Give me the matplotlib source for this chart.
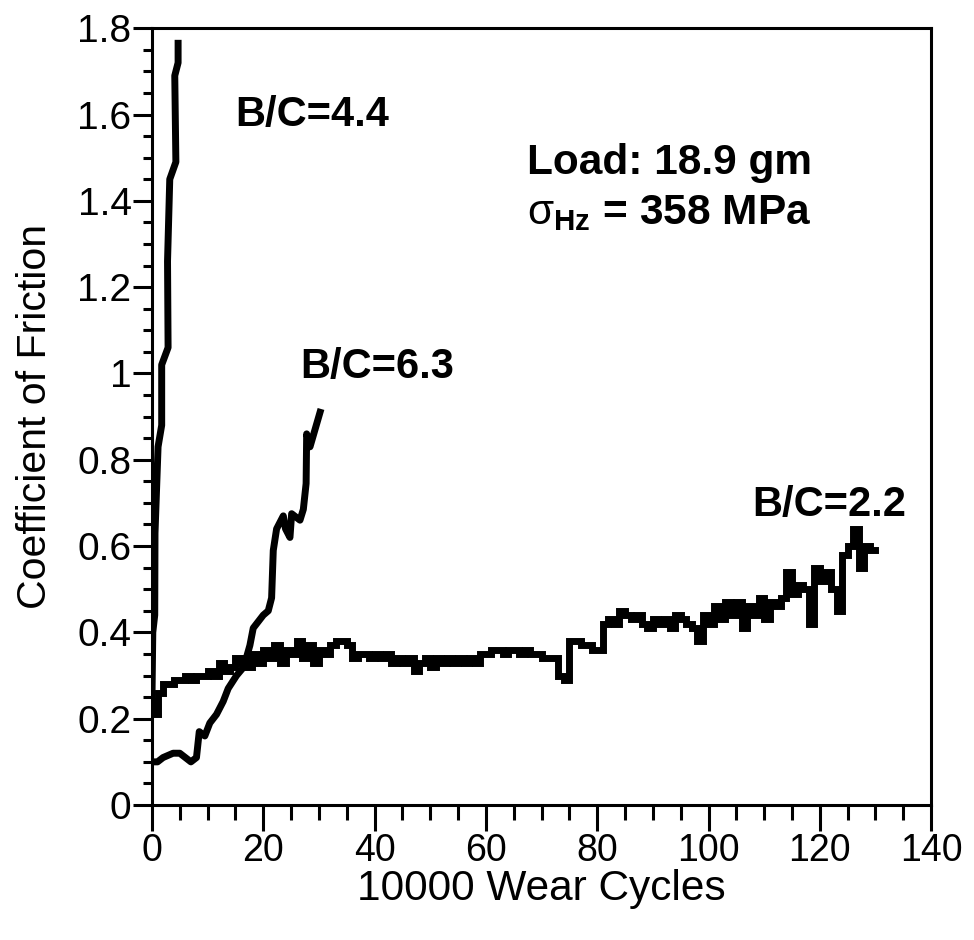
import matplotlib
matplotlib.use("Agg")
import matplotlib.pyplot as plt
from matplotlib.ticker import MultipleLocator, FuncFormatter

plt.rcParams['font.family'] = ['Liberation Sans', 'DejaVu Sans']
plt.rcParams['mathtext.fontset'] = 'custom'
plt.rcParams['mathtext.rm'] = 'Liberation Sans'
plt.rcParams['mathtext.bf'] = 'Liberation Sans:bold'

# ---- data ----
x_44 = [0.0, 0.15, 0.5, 0.55, 1.1, 1.75, 1.75, 2.9, 2.8, 3.2, 4.3, 4.1, 4.7, 4.7]
y_44 = [0.24, 0.40, 0.44, 0.63, 0.83, 0.88, 1.02, 1.06, 1.26, 1.45, 1.49, 1.69, 1.72, 1.765]

x_63 = [0, 1, 2, 3.8, 5, 6, 7, 8, 8.5, 9.5, 10.4, 11.6, 12.8, 13.7, 15.2, 16.5, 17.6,
        18.2, 20, 20.9, 21.5, 21.8, 22.4, 23.6, 24.0, 24.8, 25.1, 26.6, 27.2, 27.7,
        27.8, 28.4, 30.2]
y_63 = [0.10, 0.10, 0.11, 0.12, 0.12, 0.11, 0.10, 0.11, 0.17, 0.16, 0.19, 0.21, 0.24,
        0.27, 0.30, 0.32, 0.37, 0.41, 0.44, 0.45, 0.48, 0.59, 0.64, 0.67, 0.64, 0.62,
        0.675, 0.66, 0.685, 0.745, 0.86, 0.83, 0.91]

x_22 = [0, 0.3] + list(range(1, 131))
y_22 = [0.24, 0.21,
        0.26, 0.28, 0.28, 0.29, 0.29, 0.30, 0.29, 0.30, 0.30, 0.31,
        0.30, 0.33, 0.31, 0.32, 0.34, 0.33, 0.32, 0.35, 0.33, 0.36,
        0.34, 0.37, 0.33, 0.36, 0.35, 0.38, 0.34, 0.37, 0.33, 0.36,
        0.35, 0.37, 0.38, 0.38, 0.37, 0.34, 0.35, 0.35, 0.34, 0.35,
        0.34, 0.35, 0.33, 0.34, 0.33, 0.34, 0.31, 0.33, 0.34, 0.32,
        0.34, 0.33, 0.34, 0.33, 0.34, 0.33, 0.34, 0.33, 0.35, 0.35,
        0.36, 0.36, 0.35, 0.36, 0.36, 0.35, 0.36, 0.35, 0.35, 0.34,
        0.34, 0.34, 0.30, 0.29, 0.38, 0.38, 0.37, 0.37, 0.36, 0.36,
        0.42, 0.43, 0.42, 0.45, 0.44, 0.43, 0.44, 0.42, 0.41, 0.43,
        0.42, 0.43, 0.41, 0.44, 0.43, 0.42, 0.41, 0.38, 0.44, 0.42,
        0.46, 0.43, 0.47, 0.44, 0.47, 0.41, 0.46, 0.44, 0.48, 0.43,
        0.47, 0.46, 0.48, 0.54, 0.49, 0.51, 0.50, 0.42, 0.55, 0.52,
        0.54, 0.50, 0.45, 0.58, 0.60, 0.64, 0.55, 0.60, 0.59, 0.59]

x_ticks = [0, 20, 40, 60, 80, 100, 120, 140]
y_ticks = [0, 0.2, 0.4, 0.6, 0.8, 1.0, 1.2, 1.4, 1.6, 1.8]

fig = plt.figure(figsize=(9.74, 9.40), dpi=100)
ax = fig.add_axes([0.156, 0.1436, 0.8, 0.8264])

lw = 5.0
ax.plot(x_22, y_22, color='black', lw=lw, drawstyle='steps-post', solid_joinstyle='miter')
ax.plot(x_63, y_63, color='black', lw=lw)
ax.plot(x_44, y_44, color='black', lw=lw)

ax.set_xlim(0, 140)
ax.set_ylim(0, 1.8)
ax.set_xticks(x_ticks)
ax.set_yticks(y_ticks)
ax.xaxis.set_minor_locator(MultipleLocator(5))
ax.yaxis.set_minor_locator(MultipleLocator(0.05))
ax.yaxis.set_major_formatter(FuncFormatter(lambda v, p: ('%g' % round(v, 2))))

for s in ax.spines.values():
    s.set_linewidth(2.2)

ax.tick_params(axis='x', which='major', direction='out', length=19, width=2.2, labelsize=27, pad=1)
ax.tick_params(axis='x', which='minor', direction='out', length=10.5, width=2.2)
ax.tick_params(axis='y', which='major', direction='out', length=13.7, width=2.2, labelsize=28, pad=1)
ax.tick_params(axis='y', which='minor', direction='out', length=6.5, width=2.2)

ax.set_xlabel('10000 Wear Cycles', fontsize=30.5, labelpad=0)
ax.set_ylabel('Coefficient of Friction', fontsize=29.5, labelpad=17)

tkw = dict(fontsize=30, fontweight='bold', va='center', ha='left')
ax.text(14.9, 1.60, 'B/C=4.4', **tkw)
ax.text(26.6, 1.015, 'B/C=6.3', **tkw)
ax.text(107.8, 0.695, 'B/C=2.2', **tkw)
tkw2 = dict(fontsize=30.5, fontweight='bold', va='center', ha='left')
ax.text(67.4, 1.487, 'Load: 18.9 gm', **tkw2)
ax.text(67.4, 1.371, r'$\mathrm{σ}_{\mathbf{Hz}}$ = 358 MPa', **tkw2)

fig.savefig('out.png', dpi=100)
